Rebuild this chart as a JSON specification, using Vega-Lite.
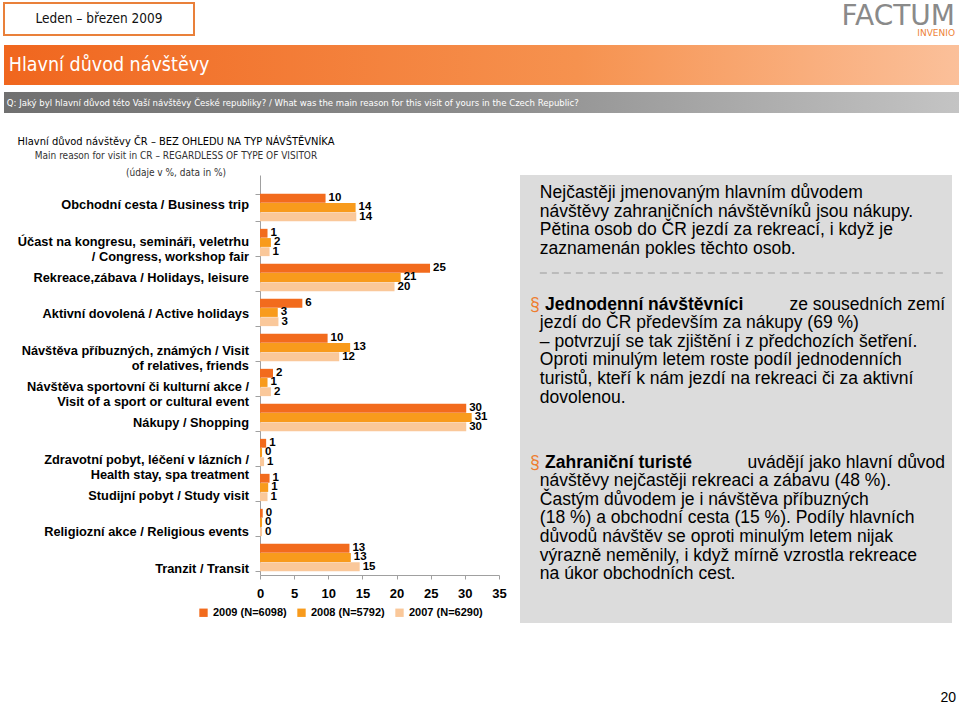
{
  "$schema": "https://vega.github.io/schema/vega-lite/v6.json",
  "padding": {"left": 3, "top": 2, "right": 2, "bottom": 0},
  "background": "white",
  "config": {"view": {"stroke": null}, "font": "Liberation Sans, Arial, sans-serif"},
  "datasets": {
    "reasons": [
      {"reason": "Obchodní cesta / Business trip", "year": "2009 (N=6098)", "value": 9.6},
      {"reason": "Obchodní cesta / Business trip", "year": "2008 (N=5792)", "value": 14.0},
      {"reason": "Obchodní cesta / Business trip", "year": "2007 (N=6290)", "value": 14.1},
      {"reason": "Účast na kongresu, semináři, veletrhu\n/ Congress, workshop fair", "year": "2009 (N=6098)", "value": 1.1},
      {"reason": "Účast na kongresu, semináři, veletrhu\n/ Congress, workshop fair", "year": "2008 (N=5792)", "value": 1.6},
      {"reason": "Účast na kongresu, semináři, veletrhu\n/ Congress, workshop fair", "year": "2007 (N=6290)", "value": 1.4},
      {"reason": "Rekreace,zábava / Holidays, leisure", "year": "2009 (N=6098)", "value": 24.9},
      {"reason": "Rekreace,zábava / Holidays, leisure", "year": "2008 (N=5792)", "value": 20.6},
      {"reason": "Rekreace,zábava / Holidays, leisure", "year": "2007 (N=6290)", "value": 19.7},
      {"reason": "Aktivní dovolená  / Active holidays", "year": "2009 (N=6098)", "value": 6.2},
      {"reason": "Aktivní dovolená  / Active holidays", "year": "2008 (N=5792)", "value": 2.6},
      {"reason": "Aktivní dovolená  / Active holidays", "year": "2007 (N=6290)", "value": 2.7},
      {"reason": "Návštěva příbuzných, známých / Visit\nof relatives, friends", "year": "2009 (N=6098)", "value": 9.9},
      {"reason": "Návštěva příbuzných, známých / Visit\nof relatives, friends", "year": "2008 (N=5792)", "value": 13.2},
      {"reason": "Návštěva příbuzných, známých / Visit\nof relatives, friends", "year": "2007 (N=6290)", "value": 11.6},
      {"reason": "Návštěva sportovní či kulturní akce /\nVisit of a sport or cultural event", "year": "2009 (N=6098)", "value": 1.9},
      {"reason": "Návštěva sportovní či kulturní akce /\nVisit of a sport or cultural event", "year": "2008 (N=5792)", "value": 1.1},
      {"reason": "Návštěva sportovní či kulturní akce /\nVisit of a sport or cultural event", "year": "2007 (N=6290)", "value": 1.6},
      {"reason": "Nákupy / Shopping", "year": "2009 (N=6098)", "value": 30.2},
      {"reason": "Nákupy / Shopping", "year": "2008 (N=5792)", "value": 31.0},
      {"reason": "Nákupy / Shopping", "year": "2007 (N=6290)", "value": 30.2},
      {"reason": "Zdravotní pobyt, léčení v lázních /\nHealth stay, spa treatment", "year": "2009 (N=6098)", "value": 0.9},
      {"reason": "Zdravotní pobyt, léčení v lázních /\nHealth stay, spa treatment", "year": "2008 (N=5792)", "value": 0.3},
      {"reason": "Zdravotní pobyt, léčení v lázních /\nHealth stay, spa treatment", "year": "2007 (N=6290)", "value": 0.6},
      {"reason": "Studijní pobyt / Study visit", "year": "2009 (N=6098)", "value": 1.4},
      {"reason": "Studijní pobyt / Study visit", "year": "2008 (N=5792)", "value": 1.2},
      {"reason": "Studijní pobyt / Study visit", "year": "2007 (N=6290)", "value": 1.1},
      {"reason": "Religiozní akce / Religious events", "year": "2009 (N=6098)", "value": 0.4},
      {"reason": "Religiozní akce / Religious events", "year": "2008 (N=5792)", "value": 0.3},
      {"reason": "Religiozní akce / Religious events", "year": "2007 (N=6290)", "value": 0.3},
      {"reason": "Tranzit / Transit", "year": "2009 (N=6098)", "value": 13.1},
      {"reason": "Tranzit / Transit", "year": "2008 (N=5792)", "value": 13.3},
      {"reason": "Tranzit / Transit", "year": "2007 (N=6290)", "value": 14.6}
    ]
  },
  "spacing": 23,
  "vconcat": [
    {
      "spacing": 7,
      "vconcat": [
        {
          "spacing": 525,
          "hconcat": [
            {
              "width": 190, "height": 32,
              "view": {"stroke": "#E9803A", "strokeWidth": 2, "fill": "#ffffff"},
              "data": {"values": [{"label": "Leden – březen 2009"}]},
              "mark": {"type": "text", "font": "DejaVu Sans Condensed, Liberation Sans Narrow, sans-serif", "fontSize": 13.5, "color": "#111"},
              "encoding": {"text": {"field": "label"}}
            },
            {
              "width": 235, "height": 34,
              "data": {"values": [{"part": "FACTUM"}, {"part": "INVENIO"}]},
              "encoding": {
                "x": {"datum": 1, "type": "quantitative", "scale": {"domain": [0, 1]}, "axis": null},
                "text": {"field": "part"}
              },
              "layer": [
                {"transform": [{"filter": "datum.part === 'FACTUM'"}], "mark": {"type": "text", "align": "right", "baseline": "middle", "font": "DejaVu Sans", "fontSize": 28, "color": "#8a8a8a"},
                 "encoding": {"y": {"datum": 0.6, "type": "quantitative", "scale": {"domain": [0, 1]}, "axis": null}}},
                {"transform": [{"filter": "datum.part === 'INVENIO'"}], "mark": {"type": "text", "align": "right", "baseline": "middle", "font": "DejaVu Sans", "fontSize": 9, "color": "#EE8236"},
                 "encoding": {"y": {"datum": 0.12, "type": "quantitative"}}}
              ]
            }
          ]
        },
        {
          "width": 955, "height": 40,
          "data": {"values": [{"label": "Hlavní důvod návštěvy"}]},
          "layer": [
            {"mark": {"type": "rect", "fill": {"gradient": "linear", "x1": 0, "x2": 1, "y1": 0, "y2": 0, "stops": [{"offset": 0, "color": "#F0661E"}, {"offset": 0.6, "color": "#F6924F"}, {"offset": 1, "color": "#FBC09A"}]}}, "encoding": {}},
            {"mark": {"type": "text", "align": "left", "baseline": "middle", "font": "DejaVu Sans Condensed, Liberation Sans Narrow, sans-serif", "fontSize": 19.5, "color": "#ffffff"},
             "encoding": {"x": {"datum": 0.005, "type": "quantitative", "scale": {"domain": [0, 1]}, "axis": null}, "text": {"field": "label"}}}
          ]
        },
        {
          "width": 955, "height": 21,
          "data": {"values": [{"label": "Q: Jaký byl hlavní důvod této Vaší návštěvy České republiky? / What was the main reason for this visit of yours in the Czech Republic?"}]},
          "layer": [
            {"mark": {"type": "rect", "fill": {"gradient": "linear", "x1": 0, "x2": 1, "y1": 0, "y2": 0, "stops": [{"offset": 0, "color": "#707070"}, {"offset": 0.5, "color": "#8c8c8c"}, {"offset": 1, "color": "#c4c4c4"}]}}, "encoding": {}},
            {"mark": {"type": "text", "align": "left", "baseline": "middle", "font": "DejaVu Sans Condensed, Liberation Sans Narrow, sans-serif", "fontSize": 9.5, "color": "#ffffff"},
             "encoding": {"x": {"datum": 0.003, "type": "quantitative", "scale": {"domain": [0, 1]}, "axis": null}, "text": {"field": "label"}}}
          ]
        }
      ]
    },
    {
      "spacing": 13,
      "title": {"text": "20", "orient": "bottom", "anchor": "end", "offset": 68, "fontSize": 14, "fontWeight": "normal", "color": "#000", "dx": 4},
      "hconcat": [
        {
          "spacing": 5,
          "title": {
            "text": "Hlavní důvod návštěvy ČR – BEZ OHLEDU NA TYP NÁVŠTĚVNÍKA",
            "subtitle": ["Main reason for visit in CR – REGARDLESS OF TYPE OF VISITOR", "(údaje v %, data in %)"],
            "anchor": "start", "frame": "group", "align": "center", "dx": 172,
            "font": "DejaVu Sans Condensed, Liberation Sans Narrow, sans-serif", "fontSize": 11, "fontWeight": "normal", "color": "#000",
            "subtitleFont": "DejaVu Sans Condensed, Liberation Sans Narrow, sans-serif", "subtitleFontSize": 10, "subtitleColor": "#333", "subtitlePadding": 4, "subtitleLineHeight": 17, "offset": -3
          },
          "hconcat": [
            {
              "width": 245, "height": 400,
              "data": {"name": "reasons"},
              "transform": [{"filter": "datum.year === '2009 (N=6098)'"}],
              "mark": {"type": "text", "align": "right", "baseline": "middle", "lineBreak": "\n", "lineHeight": 15, "fontSize": 12.8, "fontWeight": "bold", "color": "#000"},
              "encoding": {
                "y": {"field": "reason", "type": "nominal", "sort": null, "scale": {"paddingInner": 0.22, "paddingOuter": 0.324, "align": 0.83}, "axis": null},
                "x": {"datum": 1, "type": "quantitative", "scale": {"domain": [0, 1]}, "axis": null},
                "text": {"field": "reason"}
              }
            },
            {
              "width": 239, "height": 400,
              "data": {"name": "reasons"},
              "encoding": {
                "y": {"field": "reason", "type": "nominal", "sort": null,
                      "scale": {"paddingInner": 0.22, "paddingOuter": 0.324, "align": 0.83},
                      "axis": {"title": null, "labels": false, "tickBand": "extent", "tickSize": 5, "tickColor": "#a0a0a0", "domainColor": "#a0a0a0"}},
                "yOffset": {"field": "year", "type": "nominal", "sort": null, "scale": {"paddingInner": 0.04}},
                "x": {"field": "value", "type": "quantitative", "scale": {"domain": [0, 35], "nice": false},
                      "axis": {"title": null, "values": [0, 5, 10, 15, 20, 25, 30, 35], "grid": false, "labelFontSize": 13, "labelFontWeight": "bold", "labelColor": "#000", "tickSize": 4, "tickColor": "#a0a0a0", "domainColor": "#a0a0a0", "labelPadding": 8, "labelFlush": false}}
              },
              "layer": [
                {"mark": {"type": "bar"},
                 "encoding": {"color": {"field": "year", "type": "nominal", "sort": null,
                   "scale": {"range": ["#F26B1D", "#F89B1C", "#FAC89A"]},
                   "legend": {"title": null, "orient": "none", "legendX": 194, "legendY": 604, "direction": "horizontal", "symbolType": "square", "symbolSize": 70, "symbolStrokeWidth": 0, "labelFontSize": 11, "labelFontWeight": "bold", "labelColor": "#000", "columnPadding": 9}}}},
                {"mark": {"type": "text", "align": "left", "baseline": "middle", "dx": 3, "fontSize": 11.5, "fontWeight": "bold", "color": "#000"},
                 "encoding": {"text": {"field": "value", "type": "quantitative", "format": ".0f"}}}
              ]
            }
          ]
        },
        {
          "width": 432, "height": 448,
          "view": {"fill": "#dcdcdc"},
          "data": {"values": [
            {"line": 0, "kind": "plain", "text": "Nejčastěji jmenovaným hlavním důvodem"},
            {"line": 1, "kind": "plain", "text": "návštěvy zahraničních návštěvníků jsou nákupy."},
            {"line": 2, "kind": "plain", "text": "Pětina osob do ČR jezdí za rekreací, i když je"},
            {"line": 3, "kind": "plain", "text": "zaznamenán pokles těchto osob."},
            {"line": 4.3, "kind": "separator"},
            {"line": 6, "kind": "bullet", "bullet": "§", "bold": "Jednodenní návštěvníci", "text": "ze sousedních zemí"},
            {"line": 7, "kind": "plain", "text": "jezdí do ČR především za nákupy (69 %)"},
            {"line": 8, "kind": "plain", "text": "– potvrzují se tak zjištění i z předchozích šetření."},
            {"line": 9, "kind": "plain", "text": "Oproti minulým letem roste podíl jednodenních"},
            {"line": 10, "kind": "plain", "text": "turistů, kteří k nám jezdí na rekreaci či za aktivní"},
            {"line": 11, "kind": "plain", "text": "dovolenou."},
            {"line": 14.5, "kind": "bullet", "bullet": "§", "bold": "Zahraniční turisté", "text": "uvádějí jako hlavní důvod"},
            {"line": 15.5, "kind": "plain", "text": "návštěvy nejčastěji rekreaci a zábavu (48 %)."},
            {"line": 16.5, "kind": "plain", "text": "Častým důvodem je i návštěva příbuzných"},
            {"line": 17.5, "kind": "plain", "text": "(18 %) a obchodní cesta (15 %). Podíly hlavních"},
            {"line": 18.5, "kind": "plain", "text": "důvodů návštěv se oproti minulým letem nijak"},
            {"line": 19.5, "kind": "plain", "text": "výrazně neměnily, i když mírně vzrostla rekreace"},
            {"line": 20.5, "kind": "plain", "text": "na úkor obchodních cest."}
          ]},
          "encoding": {
            "y": {"field": "line", "type": "quantitative", "scale": {"domain": [-0.97, 23.12], "reverse": true, "nice": false, "zero": false}, "axis": null}
          },
          "layer": [
            {"transform": [{"filter": "datum.kind === 'plain'"}],
             "mark": {"type": "text", "align": "left", "baseline": "middle", "fontSize": 17.5, "color": "#000"},
             "encoding": {"x": {"datum": 0.046, "type": "quantitative", "scale": {"domain": [0, 1]}, "axis": null}, "text": {"field": "text"}}},
            {"transform": [{"filter": "datum.kind === 'bullet'"}],
             "mark": {"type": "text", "align": "left", "baseline": "middle", "fontSize": 17.5, "color": "#EE7D2E"},
             "encoding": {"x": {"datum": 0.023, "type": "quantitative"}, "text": {"field": "bullet"}}},
            {"transform": [{"filter": "datum.kind === 'bullet'"}],
             "mark": {"type": "text", "align": "left", "baseline": "middle", "fontSize": 17.5, "fontWeight": "bold", "color": "#000"},
             "encoding": {"x": {"datum": 0.058, "type": "quantitative"}, "text": {"field": "bold"}}},
            {"transform": [{"filter": "datum.kind === 'bullet'"}],
             "mark": {"type": "text", "align": "right", "baseline": "middle", "fontSize": 17.5, "color": "#000"},
             "encoding": {"x": {"datum": 0.984, "type": "quantitative"}, "text": {"field": "text"}}},
            {"transform": [{"filter": "datum.kind === 'separator'"}],
             "mark": {"type": "rule", "strokeDash": [7, 5], "color": "#9a9a9a", "strokeWidth": 1},
             "encoding": {"x": {"datum": 0.046, "type": "quantitative"}, "x2": {"datum": 0.984}}}
          ]
        }
      ]
    }
  ]
}
